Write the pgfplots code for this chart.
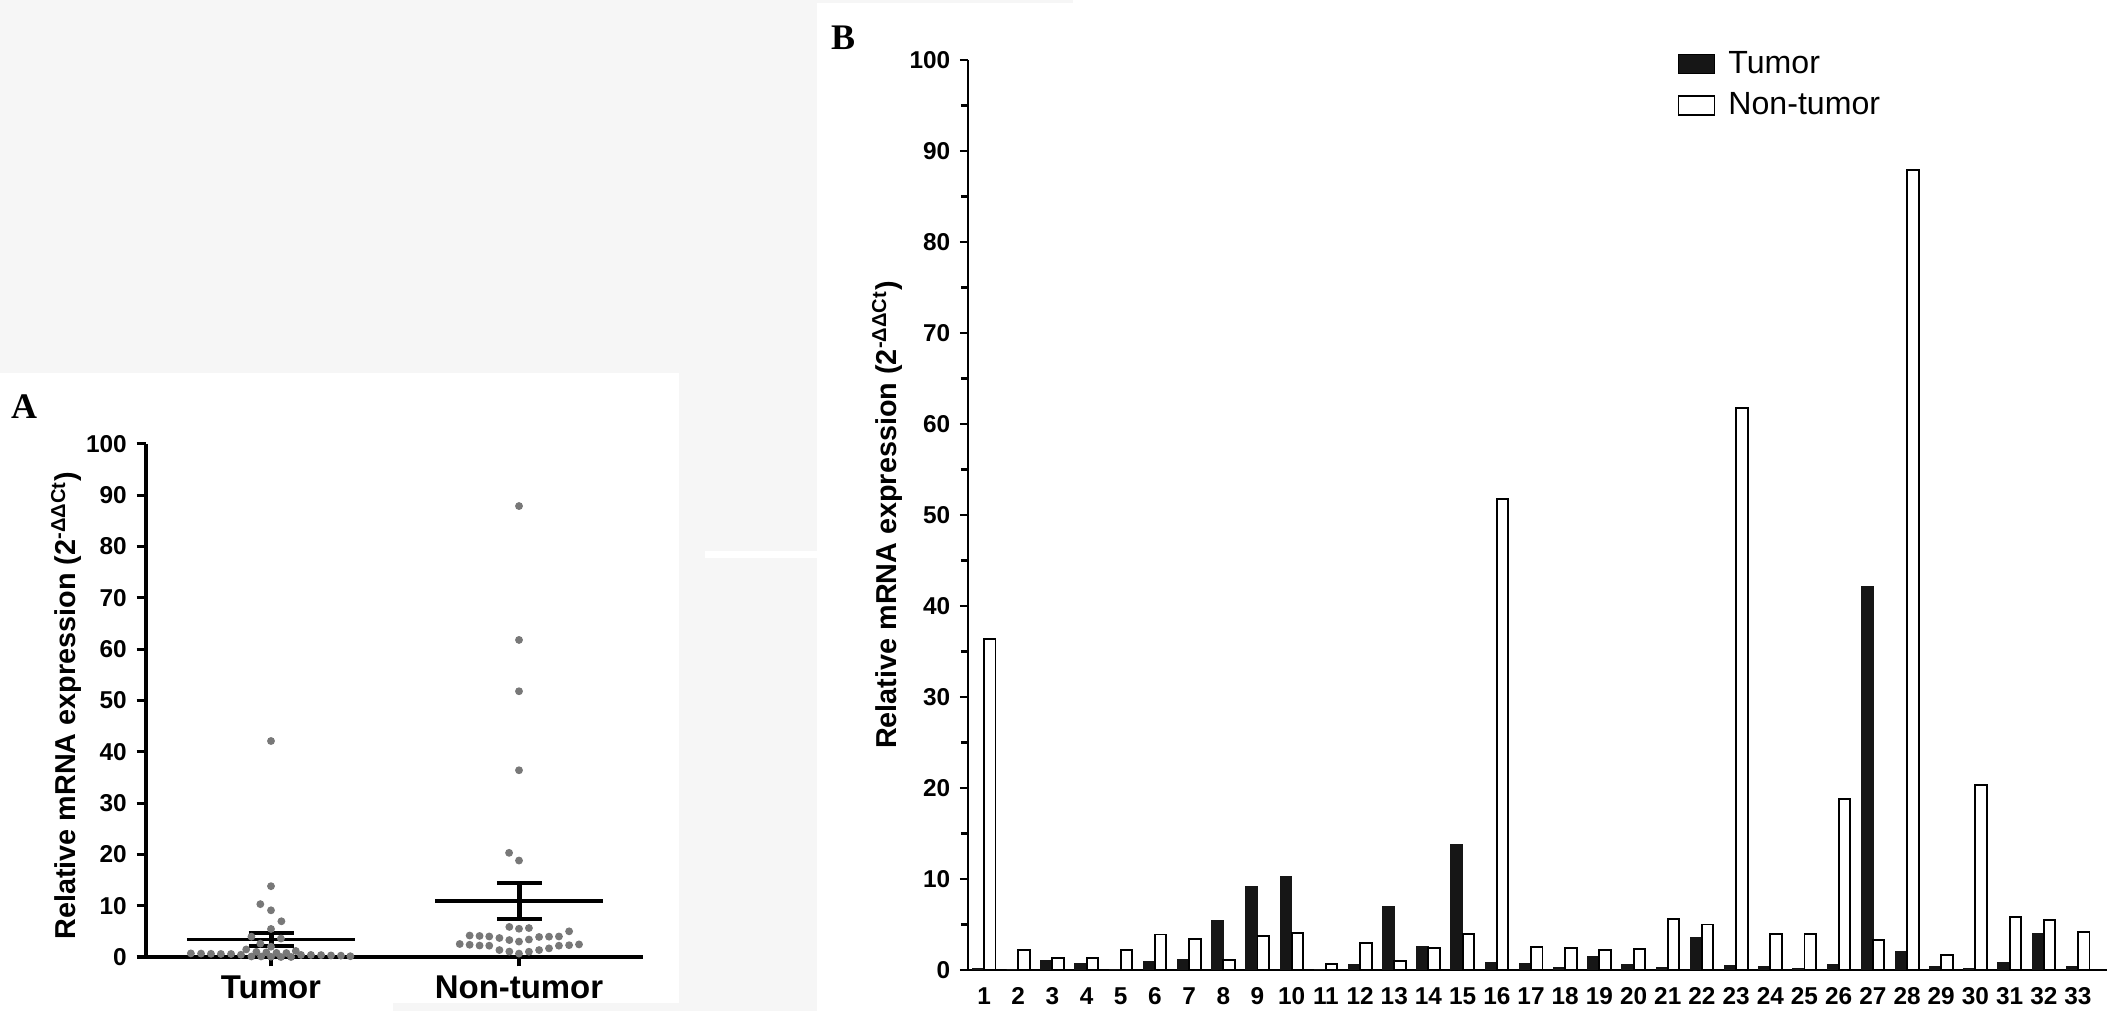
\documentclass[border=0pt]{standalone}
\usepackage{fontspec}
\setmainfont{Liberation Sans}
\newfontfamily\timesfont{Liberation Serif}
\usepackage{pgfplots}
\usepackage{pgfplotstable}
\pgfplotsset{compat=1.18}
\definecolor{dotgray}{RGB}{120,120,120}
\definecolor{bg}{RGB}{246,246,246}
\definecolor{tumorfill}{RGB}{22,22,22}

\pgfplotstableread{
x t n
1 0.1 36.4
2 0 2.2
3 1.0 1.35
4 0.66 1.35
5 0 2.2
6 0.9 3.9
7 1.17 3.4
8 5.46 1.06
9 9.1 3.7
10 10.3 4.1
11 0.05 0.66
12 0.62 3.0
13 6.96 1.03
14 2.6 2.38
15 13.8 3.96
16 0.8 51.8
17 0.7 2.53
18 0.26 2.45
19 1.47 2.23
20 0.59 2.3
21 0.3 5.64
22 3.59 5.0
23 0.44 61.8
24 0.37 4.0
25 0.15 4.0
26 0.59 18.8
27 42.1 3.3
28 2.0 87.9
29 0.4 1.68
30 0.1 20.3
31 0.77 5.86
32 3.96 5.5
33 0.4 4.18
}\dataB

\begin{document}
\begin{tikzpicture}
\begin{scope}[x=0.36bp,y=0.36bp]
\path[use as bounding box] (0,0) rectangle (2126,1011);
\fill[bg] (0,638) rectangle (817,1011);
\fill[bg] (817,1008) rectangle (1073,1011);
\fill[bg] (679,0) rectangle (817,638);
\fill[white] (705,453) rectangle (817,460);
\fill[bg] (393,0) rectangle (705,8);
\node[font=\timesfont\bfseries\fontsize{13}{13}\selectfont, anchor=center] at (24,604) {A};
\node[font=\timesfont\bfseries\fontsize{13}{13}\selectfont, anchor=center] at (843,973) {B};
\end{scope}

% ---------------- Panel A ----------------
\begin{axis}[
  at={(52.56bp,19.44bp)}, anchor=south west,
  scale only axis, width=178.92bp, height=184.68bp,
  xmin=-0.504, xmax=1.5, ymin=0, ymax=100,
  axis x line*=bottom, axis y line*=left,
  axis line style={line width=1.1bp, -},
  tick align=outside, major tick length=3.4bp,
  tick style={line width=1.1bp, black},
  ytick={0,10,...,100},
  xtick={0,1}, xticklabels={Tumor,Non-tumor},
  /pgf/number format/assume math mode=true,
  yticklabel style={font=\bfseries\fontsize{8.8}{9}\selectfont},
  xticklabel style={font=\bfseries\fontsize{11.9}{13}\selectfont},
  ylabel={Relative mRNA expression (2\textsuperscript{-ΔΔCt})},
  ylabel style={at={(axis description cs:-0.161,0.49)}, anchor=center, font=\bfseries\fontsize{10.4}{12}\selectfont},
  clip=false,
]
% Tumor dots
\addplot[only marks, mark=*, mark size=1.2bp, color=dotgray] coordinates {
(0,42.1) (0,13.8) (-0.043,10.3) (0,9.1) (0.042,6.96) (0,5.46) (-0.079,3.96) (0.040,3.59) (-0.043,2.6) (0,2.0) (-0.1,1.47) (0.1,1.17)
(-0.059,1.0) (-0.019,0.9) (0.022,0.8) (0.062,0.77)
(-0.323,0.7) (-0.282,0.66) (-0.242,0.62) (-0.202,0.59) (-0.161,0.59) (-0.121,0.44) (0.121,0.4) (0.161,0.4) (0.202,0.37) (0.242,0.3) (0.282,0.26) (0.320,0.15)
(-0.079,0.1) (-0.040,0.1) (0,0.05) (0.040,0) (0.081,0)
};
% Non-tumor dots
\addplot[only marks, mark=*, mark size=1.2bp, color=dotgray] coordinates {
(1,87.9) (1,61.8) (1,51.8) (1,36.4) (0.96,20.3) (1,18.8)
(0.961,5.86) (1,5.5) (1.040,5.64) (1.202,5.0)
(0.801,4.18) (0.841,4.1) (0.880,4.0) (0.921,3.7) (0.961,3.3) (1,3.0) (1.040,3.4) (1.081,3.9) (1.121,3.96) (1.161,4.0)
(0.761,2.53) (0.801,2.38) (0.841,2.23) (0.880,2.2) (1.161,2.2) (1.202,2.3) (1.242,2.45)
(0.921,1.35) (0.961,1.06) (1,0.66) (1.040,1.03) (1.081,1.35) (1.121,1.68)
};
% mean and SEM, Tumor (3.39 +- 1.34)
\addplot[black, line width=1.2bp] coordinates {(-0.339,3.39) (0.340,3.39)};
\addplot[black, line width=1.45bp] coordinates {(-0.09,4.73) (0.094,4.73)};
\addplot[black, line width=1.45bp] coordinates {(-0.09,2.05) (0.094,2.05)};
\addplot[black, line width=1.45bp] coordinates {(0.002,2.05) (0.002,4.73)};
% mean and SEM, Non-tumor (10.91 +- 3.47)
\addplot[black, line width=1.2bp] coordinates {(0.663,10.91) (1.339,10.91)};
\addplot[black, line width=1.45bp] coordinates {(0.911,14.38) (1.093,14.38)};
\addplot[black, line width=1.45bp] coordinates {(0.911,7.44) (1.093,7.44)};
\addplot[black, line width=1.45bp] coordinates {(1.002,7.44) (1.002,14.38)};
\end{axis}

% ---------------- Panel B ----------------
\begin{axis}[
  at={(348.48bp,14.76bp)}, anchor=south west,
  scale only axis, width=410.04bp, height=327.6bp,
  xmin=0.532, xmax=33.85, ymin=0, ymax=100,
  axis x line*=bottom, axis y line*=left,
  axis line style={line width=1bp, -},
  tick align=outside, major tick length=2.9bp, minor tick length=2.6bp,
  tick style={line width=1bp, black},
  ytick={0,10,...,100}, minor ytick={5,15,...,95},
  xtick={1,...,33}, xtick style={draw=none},
  /pgf/number format/assume math mode=true,
  ticklabel style={font=\bfseries\fontsize{8.8}{9}\selectfont},
  ylabel={Relative mRNA expression (2\textsuperscript{-ΔΔCt})},
  ylabel style={at={(axis description cs:-0.071,0.5)}, anchor=center, font=\bfseries\fontsize{10.4}{12}\selectfont},
  legend style={at={(axis description cs:0.6225,1.015)}, anchor=north west, draw=none, fill=none,
    font=\fontsize{11.6}{13}\selectfont, row sep=2.5bp, inner sep=0pt,
    nodes={inner sep=1.5bp}},
  legend cell align=left,
]
\addplot[ybar, bar width=0.336, bar shift=-0.168, fill=tumorfill, draw=tumorfill, line width=0.5bp,
  legend image code/.code={\draw[fill=tumorfill, draw=black, line width=0.6bp] (0bp,-3.42bp) rectangle (12.96bp,3.42bp); \path[draw=none, fill=none] (0bp,0bp) -- (16.5bp,0bp);}]
  table[x=x, y=t] {\dataB};
\addlegendentry{Tumor}
\addplot[ybar, bar width=0.336, bar shift=0.168, fill=white, draw=black, line width=0.7bp,
  legend image code/.code={\draw[fill=white, draw=black, line width=0.6bp] (0bp,-3.42bp) rectangle (12.96bp,3.42bp); \path[draw=none, fill=none] (0bp,0bp) -- (16.5bp,0bp);}]
  table[x=x, y=n] {\dataB};
\addlegendentry{Non-tumor}
\end{axis}
\end{tikzpicture}
\end{document}
